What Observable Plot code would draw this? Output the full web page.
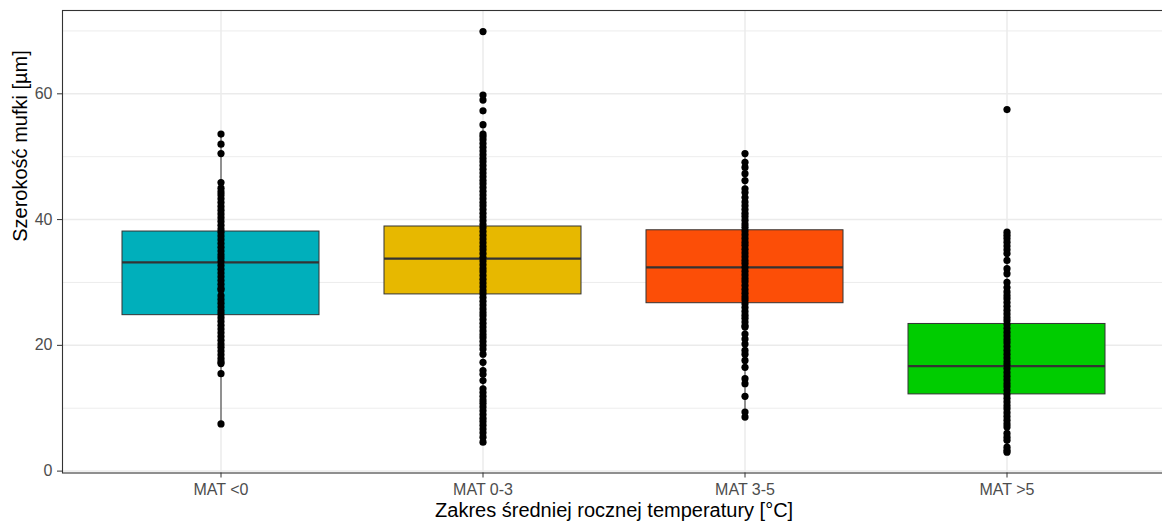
<!DOCTYPE html>
<html><head><meta charset="utf-8">
<script src="https://cdn.jsdelivr.net/npm/d3@7"></script>
<script src="https://cdn.jsdelivr.net/npm/@observablehq/plot@0.6"></script>
<style>body{margin:0;background:#fff}#chart svg{display:block}</style>
</head><body><div id="chart"></div>
<script>
const categories = ["MAT <0", "MAT 0-3", "MAT 3-5", "MAT >5"];
const fillColors = ["#00AFBB", "#E7B800", "#FC4E07", "#00CC00"];
const q1 = [24.8, 28.1, 26.7, 12.2];
const medians = [33.2, 33.8, 32.4, 16.7];
const q3 = [38.1, 38.9, 38.3, 23.4];
const whiskerLo = [7.5, 12.5, 9.4, 3.0];
const whiskerHi = [53.6, 55.1, 50.5, 38.0];
const yTicks = [0, 20, 40, 60];
const yMinor = [10, 30, 50, 70];

const pointsLt0 = [53.6, 52.0, 50.5, 45.9, 45.0, 44.4, 43.9, 43.3, 42.7, 42.1, 41.5, 40.9, 40.3, 39.7, 39.1, 38.5, 38.0, 37.4, 36.8, 36.2, 35.6, 35.0, 34.4, 33.9, 33.3, 32.7, 32.1, 31.5, 30.9, 30.3, 29.7, 29.1, 28.8, 27.9, 27.3, 26.7, 26.1, 25.5, 25.0, 24.4, 23.8, 23.2, 22.6, 22.0, 21.4, 20.8, 20.2, 19.7, 19.1, 18.5, 17.9, 17.4, 17.1, 15.5, 7.5];
const points0to3 = [69.9, 59.8, 59.0, 57.3, 55.1, 53.6, 53.2, 52.7, 52.1, 51.5, 50.9, 50.3, 49.7, 49.2, 48.6, 48.0, 47.4, 46.8, 46.2, 45.7, 45.1, 44.5, 43.9, 43.3, 42.7, 42.2, 41.6, 41.0, 40.4, 39.8, 39.2, 38.7, 38.1, 37.5, 36.9, 36.3, 35.7, 35.2, 34.6, 34.0, 33.4, 32.8, 32.2, 31.7, 31.1, 30.5, 29.9, 29.3, 28.7, 28.2, 27.6, 27.0, 26.4, 25.8, 25.2, 24.7, 24.1, 23.5, 22.9, 22.3, 21.7, 21.2, 20.6, 20.0, 19.4, 18.6, 17.3, 16.0, 15.4, 14.4, 13.1, 12.5, 11.9, 11.3, 10.8, 10.2, 9.6, 9.0, 8.4, 7.9, 7.3, 6.7, 6.1, 5.4, 4.6];
const points3to5 = [50.5, 49.1, 48.3, 47.3, 46.2, 44.9, 44.3, 43.5, 42.8, 42.2, 41.6, 41.0, 40.5, 39.9, 39.3, 38.8, 38.2, 37.6, 37.0, 36.4, 35.9, 35.3, 34.7, 34.1, 33.5, 33.0, 32.4, 31.8, 31.2, 30.6, 30.1, 29.5, 28.9, 28.3, 27.7, 27.2, 26.6, 26.0, 25.4, 24.8, 24.3, 23.7, 23.1, 22.9, 21.8, 21.0, 20.2, 19.2, 18.6, 17.6, 16.5, 14.7, 13.9, 11.9, 9.4, 8.6];
const pointsGt5 = [57.5, 38.0, 37.5, 37.0, 36.4, 35.8, 35.2, 34.6, 33.5, 32.2, 31.4, 30.0, 29.2, 28.5, 27.9, 27.4, 26.8, 26.2, 25.6, 25.0, 24.4, 23.9, 23.3, 22.7, 22.1, 21.5, 20.9, 20.4, 19.8, 19.2, 18.6, 18.0, 17.4, 16.9, 16.3, 15.7, 15.1, 14.5, 13.9, 13.4, 12.8, 12.2, 11.6, 11.0, 10.4, 9.9, 9.3, 8.7, 8.1, 7.5, 7.0, 6.0, 5.4, 4.9, 3.8, 3.3, 3.0];

const xTitle = "Zakres średniej rocznej temperatury [°C]";
const yTitle = "Szerokość mufki [µm]";

const boxes = categories.map((c, i) => ({cat: c, q1: q1[i], med: medians[i], q3: q3[i], lo: whiskerLo[i], hi: whiskerHi[i]}));
const pointSets = [pointsLt0, points0to3, points3to5, pointsGt5];
const points = pointSets.flatMap((arr, i) => arr.map(v => ({cat: categories[i], v})));

const font = "'Liberation Sans', Arial, Helvetica, sans-serif";
const chart = Plot.plot({
  width: 1162, height: 525,
  marginLeft: 62, marginRight: -3.2, marginTop: 10, marginBottom: 52.5,
  style: {fontFamily: font, fontSize: "16px", background: "#fff", overflow: "hidden"},
  x: {type: "band", domain: categories, paddingInner: 0.25, paddingOuter: 0.225, axis: null},
  y: {domain: [-0.3, 73.25], axis: null},
  color: {domain: categories, range: fillColors},
  marks: [
    Plot.ruleY(yMinor, {stroke: "#ebebeb", strokeWidth: 0.9}),
    Plot.ruleY(yTicks, {stroke: "#ebebeb", strokeWidth: 1.5}),
    Plot.ruleX(categories, {x: d => d, stroke: "#ebebeb", strokeWidth: 1.5}),
    Plot.ruleX(boxes, {x: "cat", y1: "lo", y2: "hi", stroke: "#333333", strokeWidth: 1}),
    Plot.barY(boxes, {x: "cat", y1: "q1", y2: "q3", fill: "cat", stroke: "#333333", strokeWidth: 1}),
    Plot.tickY(boxes, {x: "cat", y: "med", stroke: "#333333", strokeWidth: 2.2}),
    Plot.dot(points, {x: "cat", y: "v", r: 3.6, fill: "black", stroke: null}),
    Plot.frame({stroke: "#333333", strokeWidth: 1.1}),
    Plot.axisY({ticks: yTicks, tickSize: 5, tickPadding: 5, stroke: "#333333", fill: "#4d4d4d", label: null, fontSize: 16}),
    Plot.axisX({tickSize: 5, tickPadding: 6, stroke: "#333333", fill: "#4d4d4d", label: null, fontSize: 16}),
    Plot.text([xTitle], {text: d => d, frameAnchor: "bottom", dy: 44, fontSize: 20, fill: "black"}),
    Plot.text([yTitle], {text: d => d, frameAnchor: "left", dx: -42, rotate: -90, fontSize: 20, fill: "black"})
  ]
});
document.getElementById("chart").appendChild(chart);
</script>
</body></html>
